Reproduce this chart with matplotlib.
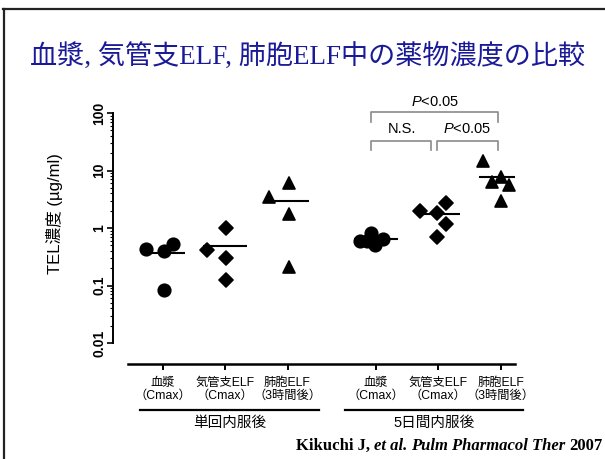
import matplotlib
matplotlib.use("Agg")
import matplotlib.pyplot as plt
import numpy as np
from matplotlib.lines import Line2D
from matplotlib.markers import MarkerStyle
from matplotlib.ticker import FixedLocator, NullFormatter
from matplotlib.offsetbox import TextArea, HPacker, AnnotationBbox

plt.rcParams['mathtext.fontset'] = 'custom'
plt.rcParams['mathtext.it'] = 'Liberation Sans:italic'
plt.rcParams['mathtext.rm'] = 'Liberation Sans'

# ---- data ----
title = "血漿, 気管支ELF, 肺胞ELF中の薬物濃度の比較"
ylabel = "TEL濃度 (µg/ml)"
cat_line1 = ["血漿", "気管支ELF", "肺胞ELF", "血漿", "気管支ELF", "肺胞ELF"]
cat_line2 = ["（Cmax）", "（Cmax）", "（3時間後）", "（Cmax）", "（Cmax）", "（3時間後）"]
group_labels = ["単回内服後", "5日間内服後"]
ytick_vals = [0.01, 0.1, 1, 10, 100]
ytick_labels = ["0.01", "0.1", "1", "10", "100"]

plasma_single = [0.43, 0.40, 0.53, 0.085]
bronch_single = [0.42, 1.0, 0.30, 0.127]
alveol_single = [3.4, 6.0, 1.75, 0.21]
plasma_5d = [0.59, 0.82, 0.64, 0.51, 0.60]
bronch_5d = [1.96, 2.7, 1.81, 1.17, 0.70]
alveol_5d = [14.9, 7.6, 6.2, 5.7, 3.0]
means = [0.363, 0.486, 2.98, 0.64, 1.74, 7.6]

# horizontal scatter offsets (category units)
jit_plasma_single = [-0.27, 0.02, 0.16, 0.02]
jit_bronch_single = [-0.29, 0.02, 0.02, 0.02]
jit_alveol_single = [-0.29, 0.02, 0.02, 0.02]
jit_plasma_5d = [-0.26, -0.08, 0.11, -0.02, -0.14]
jit_bronch_5d = [-0.30, 0.13, -0.02, 0.13, -0.02]
jit_alveol_5d = [-0.29, 0.0, -0.14, 0.14, 0.0]

sig_labels = ["$\\it{P}$<0.05", "N.S.", "$\\it{P}$<0.05"]

# ---- figure ----
W, H = 605, 459
fig = plt.figure(figsize=(W / 100, H / 100), dpi=100)
ax = fig.add_axes([113 / W, 95 / H, 402 / W, 251 / H])

xpos = [0, 1, 2, 3.42, 4.42, 5.42]
series = [plasma_single, bronch_single, alveol_single, plasma_5d, bronch_5d, alveol_5d]
jits = [jit_plasma_single, jit_bronch_single, jit_alveol_single,
        jit_plasma_5d, jit_bronch_5d, jit_alveol_5d]
markers = ['o', 'D', '^', 'o', 'D', '^']
msizes = {'o': 9.0, 'D': 7.2, '^': 8.8}

for x, vals, jit, m, mean in zip(xpos, series, jits, markers, means):
    xs = [x + j for j in jit]
    ax.plot(xs, vals, linestyle='none', marker=MarkerStyle(m, joinstyle='round'),
            markersize=msizes[m], color='black', markeredgecolor='black',
            markeredgewidth=1.2, zorder=3)
    ax.plot([x - 0.35, x + 0.35], [mean, mean], color='black', lw=1.5,
            zorder=2, solid_capstyle='butt')

ax.set_yscale('log')
ax.set_ylim(10 ** -2.365, 100)
ax.set_xlim(-0.80, 5.65)

for s in ['top', 'right']:
    ax.spines[s].set_visible(False)
ax.spines['left'].set_bounds(0.01, 100)
ax.spines['left'].set_linewidth(1.4)
ax.spines['bottom'].set_bounds(-0.56, 5.65)
ax.spines['bottom'].set_linewidth(1.8)

ax.set_xticks(xpos)
ax.set_xticklabels([])
ax.tick_params(axis='x', direction='out', length=4, width=1.4)

ax.yaxis.set_major_locator(FixedLocator(ytick_vals))
minor = [m * 10.0 ** e for e in range(-2, 2) for m in range(2, 10)]
ax.yaxis.set_minor_locator(FixedLocator(minor))
ax.yaxis.set_minor_formatter(NullFormatter())
ax.set_yticks(ytick_vals)
ax.set_yticklabels(ytick_labels, rotation=90, va='center',
                   fontweight='bold', fontsize=10, family='Liberation Sans')
ax.tick_params(axis='y', which='major', direction='out', length=4.5, width=1.2, pad=0.5)
ax.tick_params(axis='y', which='minor', direction='out', length=2.2, width=0.8)

ax.set_ylabel(ylabel, fontsize=12, family=['Liberation Sans', 'Noto Sans CJK JP'])
ax.yaxis.set_label_coords((63 - 113) / 402, (364 - 214) / 251)

# category labels
tr = ax.get_xaxis_transform()
lab_font = ['Liberation Sans', 'Noto Sans CJK JP']
for x, l1, l2 in zip(xpos, cat_line1, cat_line2):
    ax.text(x, (364 - 383) / 251, l1, transform=tr, ha='center', va='center',
            fontsize=8.8, family=lab_font, clip_on=False)
    ax.text(x, (364 - 396) / 251, l2, transform=tr, ha='center', va='center',
            fontsize=8.8, family=lab_font, clip_on=False)

# group underlines and labels
yl = (364 - 410) / 251
for (x0, x1), g in zip([(xpos[0] - 0.37, xpos[2] + 0.50), (xpos[3] - 0.50, xpos[5] + 0.36)],
                       group_labels):
    ax.plot([x0, x1], [yl, yl], transform=tr, color='black', lw=1.6, clip_on=False)
    ax.text((x0 + x1) / 2, (364 - 423) / 251, g, transform=tr, ha='center',
            va='center', fontsize=10.5, family=lab_font, clip_on=False)

# significance brackets
def bracket(x0, x1, ytop, ybot, label, ytext, xtext):
    fy = lambda p: (364 - p) / 251
    ax.plot([x0, x0, x1, x1], [fy(ybot), fy(ytop), fy(ytop), fy(ybot)],
            transform=tr, color='#8a8a8a', lw=1.2, clip_on=False)
    ax.text(xtext, fy(ytext), label, transform=tr, ha='center', va='center',
            fontsize=10.5, family='Liberation Sans', clip_on=False)

bracket(xpos[3] - 0.08, xpos[5] - 0.04, 112, 122, sig_labels[0], 102, 4.36)
bracket(xpos[3] - 0.08, xpos[4] - 0.12, 141, 150, sig_labels[1], 129, 3.84)
bracket(xpos[4] - 0.02, xpos[5] - 0.04, 141, 150, sig_labels[2], 129, 4.88)

# title
fig.text(308 / W, 1 - 57 / H, title, ha='center', va='center', fontsize=19.5,
         color='#1a1a99', family=['Liberation Serif', 'Noto Sans CJK JP'])

# frame
fig.add_artist(Line2D([4 / W, 4 / W], [0, 1 - 9 / H], transform=fig.transFigure,
                      color='#222222', lw=1.6))
fig.add_artist(Line2D([3 / W, 1], [1 - 9 / H, 1 - 9 / H], transform=fig.transFigure,
                      color='#222222', lw=1.6))

# citation
cite_parts = [("Kikuchi J,", 'normal'), ("et al.", 'italic'),
              ("Pulm Pharmacol Ther", 'italic'), ("2007", 'normal')]
areas = [TextArea(t, textprops=dict(family='Liberation Serif', fontweight='bold',
                                     style=st, fontsize=12))
         for t, st in cite_parts]
box = HPacker(children=areas, pad=0, sep=3.0, align='baseline')
ab = AnnotationBbox(box, (603, H - 446), xycoords='figure pixels',
                    box_alignment=(1, 0.5), frameon=False, pad=0)
fig.add_artist(ab)

fig.savefig('out.png', dpi=100)
